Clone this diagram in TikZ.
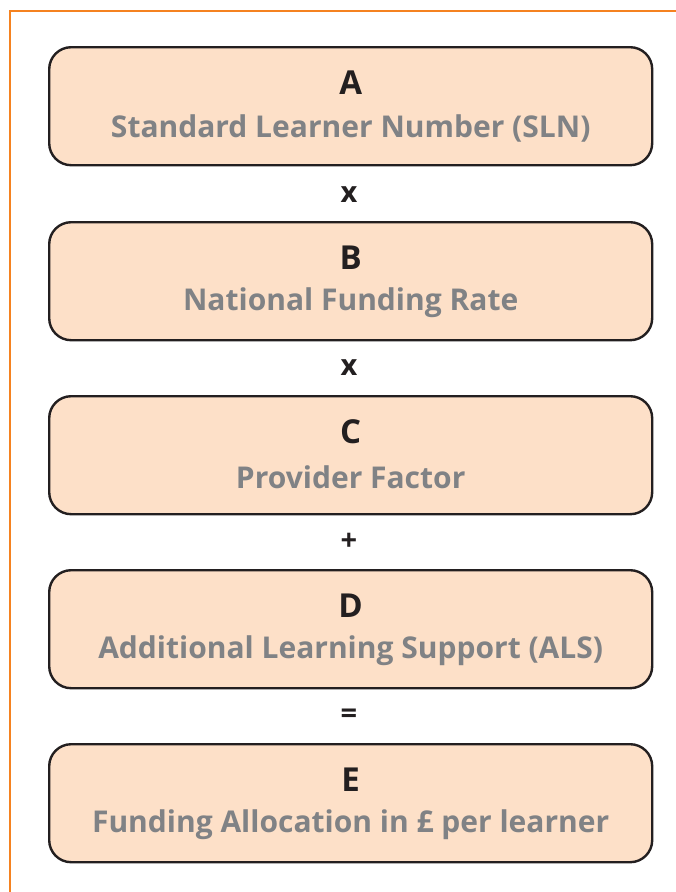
\documentclass[tikz,border=0pt]{standalone}
\usepackage{fontspec}
\setmainfont{Open Sans}
\definecolor{orangeline}{HTML}{F58220}
\definecolor{peach}{HTML}{FDE0C8}
\definecolor{labelgray}{HTML}{808285}
\definecolor{darktext}{HTML}{231F20}
\begin{document}
\begin{tikzpicture}[x=1pt,y=-1pt,
  stepbox/.style={draw=darktext, line width=2.4pt, fill=peach, rounded corners=22pt,
    minimum width=603pt, minimum height=118pt, anchor=north west, inner sep=0pt},
  letter/.style={font=\bfseries\fontsize{33}{36}\selectfont, text=darktext},
  label/.style={font=\bfseries\fontsize{30}{34}\selectfont, text=labelgray},
  op/.style={font=\bfseries\fontsize{29}{32}\selectfont, text=darktext}]
\useasboundingbox (0,0) rectangle (676,892);
\draw[orangeline, line width=2.6pt] (10,892) -- (10,11) -- (676,11);
\foreach \n/\y/\L/\T in {a/46/A/Standard Learner Number (SLN), b/221/B/National Funding Rate, c/395/C/Provider Factor, d/569/D/Additional Learning Support (ALS), e/743/E/Funding Allocation in £ per learner}{
  \node[stepbox] (\n) at (48,\y) {};
  \node[letter] (\n l) at ([yshift=-37pt]\n.north) {\L};
  \node[label] (\n t) at ([yshift=-82pt]\n.north) {\T};
}
\node[op] (o1) at (349,195) {x};
\node[op] (o2) at (349,368) {x};
\node[op] (o3) at (349,542) {+};
\node[op] (o4) at (349,716) {=};
\end{tikzpicture}
\end{document}
